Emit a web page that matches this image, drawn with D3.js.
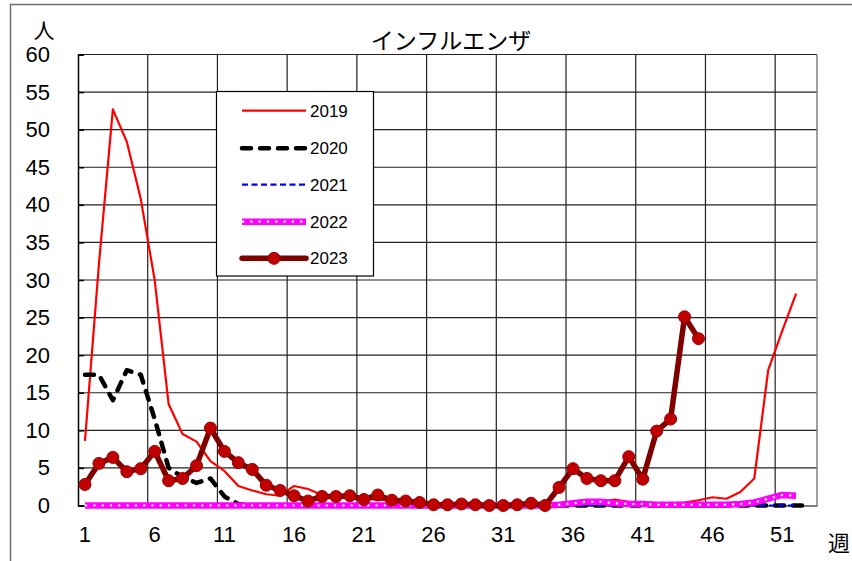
<!DOCTYPE html>
<html>
<head>
<meta charset="utf-8">
<script src="https://cdn.jsdelivr.net/npm/d3@7"></script>
<style>
  html, body { margin: 0; padding: 0; background: #fff; }
  svg { display: block; }
  text { font-family: "Liberation Sans", Arial, sans-serif; fill: #000; }
  .jp { font-family: "Noto Sans CJK JP", "Noto Sans", sans-serif; }
</style>
</head>
<body>
<svg id="chart" width="852" height="561"></svg>
<script>
// ---- data ----
const weeks = d3.range(1, 54); // 1..53
const xTickLabels = [1, 6, 11, 16, 21, 26, 31, 36, 41, 46, 51];
const yTickLabels = [0, 5, 10, 15, 20, 25, 30, 35, 40, 45, 50, 55, 60];
const seriesNames = ["2019", "2020", "2021", "2022", "2023"];

const v2019 = [8.6, 32.1, 52.7, 48.4, 40.8, 30.0, 13.5, 9.5, 8.5, 5.9, 4.6, 2.6, 2.0, 1.5, 1.3, 2.6, 2.2, 1.4,
  1.2, 1.0, 0.8, 0.8, 0.6, 0.5, 0.4, 0.3, 0.3, 0.2, 0.2, 0.2, 0.2, 0.2, 0.2, 0.2, 0.3, 0.3, 0.4, 0.5, 0.8,
  0.5, 0.4, 0.3, 0.3, 0.4, 0.7, 1.1, 0.9, 1.8, 3.6, 18.0, 23.2, 28.2];
const v2020 = [17.4, 17.4, 14.0, 18.0, 17.4, 11.5, 5.0, 3.8, 3.0, 3.6, 1.2, 0.2,
  0, 0, 0, 0, 0, 0, 0, 0, 0, 0, 0, 0, 0, 0, 0, 0, 0, 0, 0, 0, 0, 0, 0, 0, 0, 0, 0, 0, 0, 0, 0, 0, 0, 0, 0, 0, 0, 0, 0, 0, 0];
const v2021 = [0, 0, 0, 0, 0, 0, 0, 0, 0, 0, 0, 0, 0, 0, 0, 0, 0, 0, 0, 0, 0, 0, 0, 0, 0, 0,
  0, 0, 0, 0, 0, 0, 0, 0, 0, 0, 0, 0, 0, 0, 0, 0, 0, 0, 0, 0, 0, 0, 0, 0, 0, 0];
const v2022 = [0, 0, 0, 0, 0, 0, 0, 0, 0, 0, 0, 0, 0, 0, 0, 0, 0, 0, 0, 0, 0, 0, 0, 0, 0, 0,
  0, 0, 0, 0, 0, 0, 0, 0, 0.1, 0.3, 0.5, 0.5, 0.3, 0.2, 0.2, 0.1, 0.1, 0.1, 0.1, 0.1, 0.1, 0.2, 0.4, 0.9, 1.4, 1.3];
const v2023 = [2.8, 5.6, 6.4, 4.5, 4.9, 7.2, 3.3, 3.6, 5.3, 10.3, 7.2, 5.7, 4.8, 2.7, 2.0, 1.3, 0.6, 1.2, 1.2,
  1.3, 0.8, 1.4, 0.7, 0.6, 0.4, 0.1, 0.1, 0.2, 0.1, 0, 0, 0.1, 0.3, 0, 2.4, 4.9, 3.6, 3.3, 3.3, 6.5, 3.5,
  9.9, 11.5, 25.1, 22.2];

// ---- layout ----
const svg = d3.select("#chart");
const L = 78, R = 817, T = 54.5, B = 505.5;

const x = d3.scaleBand().domain(weeks).range([L, R]).padding(0);
const cx = w => x(w) + x.bandwidth() / 2;
const y = d3.scaleLinear().domain([0, 60]).range([B, T]);

// outer chart border
svg.append("rect").attr("x", 10.5).attr("y", 4.5).attr("width", 900).attr("height", 700)
  .attr("fill", "none").attr("stroke", "#707070").attr("stroke-width", 1.5);

// gridlines
const grid = svg.append("g");
grid.selectAll("line.h").data(yTickLabels.filter(v => v > 0)).join("line")
  .attr("x1", L).attr("x2", R).attr("y1", d => y(d)).attr("y2", d => y(d))
  .attr("stroke", "#222").attr("stroke-width", 1.2);
grid.selectAll("line.v").data(xTickLabels.slice(1)).join("line")
  .attr("x1", d => x(d)).attr("x2", d => x(d)).attr("y1", T).attr("y2", B)
  .attr("stroke", "#222").attr("stroke-width", 1.2);
// right border
svg.append("line").attr("x1", R).attr("x2", R).attr("y1", T).attr("y2", B)
  .attr("stroke", "#808080").attr("stroke-width", 1.5);

// y axis
const yAxis = svg.append("g").attr("transform", `translate(${L},0)`)
  .call(d3.axisLeft(y).tickValues(yTickLabels).tickSize(-6).tickPadding(28));
yAxis.select(".domain").attr("stroke", "#000").attr("stroke-width", 1.5);
yAxis.selectAll(".tick line").attr("stroke", "#000").attr("stroke-width", 1.5);
yAxis.selectAll("text").style("font-size", "22px").attr("font-family", "Liberation Sans, Arial, sans-serif");

// x axis
const xAxis = svg.append("g").attr("transform", `translate(0,${B})`)
  .call(d3.axisBottom(x).tickValues(xTickLabels).tickSize(0).tickPadding(21));
xAxis.select(".domain").attr("stroke", "#000").attr("stroke-width", 1.2);
xAxis.selectAll("text").style("font-size", "22px").attr("font-family", "Liberation Sans, Arial, sans-serif");

// titles
svg.append("text").attr("class", "jp").attr("x", 451).attr("y", 49).attr("text-anchor", "middle")
  .style("font-size", "23px").text("インフルエンザ");
svg.append("text").attr("class", "jp").attr("x", 44).attr("y", 38).attr("text-anchor", "middle")
  .style("font-size", "21px").text("人");
svg.append("text").attr("class", "jp").attr("x", 839).attr("y", 551).attr("text-anchor", "middle")
  .style("font-size", "22px").text("週");

// lines
const line = d3.line().x((d, i) => cx(i + 1)).y(d => y(d));
const plot = svg.append("g");

plot.append("path").datum(v2019).attr("d", line).attr("fill", "none")
  .attr("stroke", "#FF0000").attr("stroke-width", 2.2).attr("stroke-linejoin", "round");
plot.append("path").datum(v2020).attr("d", line).attr("fill", "none")
  .attr("stroke", "#000").attr("stroke-width", 4.5).attr("stroke-dasharray", "9,9")
  .attr("stroke-linecap", "round").attr("stroke-linejoin", "round");
plot.append("path").datum(v2021).attr("d", line).attr("fill", "none")
  .attr("stroke", "#0000FF").attr("stroke-width", 2.2).attr("stroke-dasharray", "6,3.5");
plot.append("path").datum(v2022).attr("d", line).attr("fill", "none")
  .attr("stroke", "#FF00FF").attr("stroke-width", 6.5).attr("stroke-linejoin", "round");
plot.append("path").datum(v2022).attr("d", line).attr("fill", "none")
  .attr("stroke", "#fff").attr("stroke-width", 2.2).attr("stroke-dasharray", "2.2,6.1");
plot.append("path").datum(v2023).attr("d", line).attr("fill", "none")
  .attr("stroke", "#800000").attr("stroke-width", 5.5).attr("stroke-linejoin", "round");
plot.selectAll("circle.m").data(v2023).join("circle")
  .attr("cx", (d, i) => cx(i + 1)).attr("cy", d => y(d)).attr("r", 6)
  .attr("fill", "#C00000").attr("stroke", "#990000").attr("stroke-width", 1);

// legend
const lg = svg.append("g");
lg.append("rect").attr("x", 216.5).attr("y", 91.5).attr("width", 157).attr("height", 184.5)
  .attr("fill", "#fff").attr("stroke", "#000").attr("stroke-width", 1.2);
const rows = [110.7, 148.3, 184.6, 221.7, 258.3];
const lx1 = 242, lx2 = 306;
const styles = [
  [{ stroke: "#FF0000", w: 2.2 }],
  [{ stroke: "#000", w: 4.5, dash: "9,9", cap: "round" }],
  [{ stroke: "#0000FF", w: 2.2, dash: "6,3.5" }],
  [{ stroke: "#FF00FF", w: 6.5 }, { stroke: "#fff", w: 2.2, dash: "2.2,6.1" }],
  [{ stroke: "#800000", w: 5.5, cap: "round" }]
];
seriesNames.forEach((name, i) => {
  styles[i].forEach(s => {
    lg.append("line").attr("x1", lx1).attr("x2", lx2).attr("y1", rows[i]).attr("y2", rows[i])
      .attr("stroke", s.stroke).attr("stroke-width", s.w)
      .attr("stroke-dasharray", s.dash || null).attr("stroke-linecap", s.cap || "butt");
  });
  lg.append("text").attr("x", 310).attr("y", rows[i]).attr("dy", "0.36em")
    .style("font-size", "17px").text(name);
});
lg.append("circle").attr("cx", (lx1 + lx2) / 2).attr("cy", rows[4]).attr("r", 6)
  .attr("fill", "#C00000").attr("stroke", "#990000").attr("stroke-width", 1);
</script>
</body>
</html>
